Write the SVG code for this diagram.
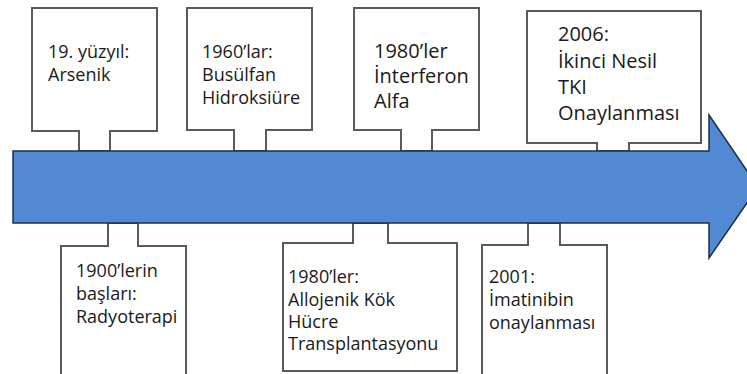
<svg xmlns="http://www.w3.org/2000/svg" width="747" height="374" viewBox="0 0 747 374">
<style>
.box{fill:#fff;stroke:#5a5a5a;stroke-width:2;stroke-linejoin:miter}
.t{font-family:"Open Sans","Liberation Sans",sans-serif;fill:#1a1a1a}
.s18{font-size:18px}
.s20{font-size:20px}
.arrow{fill:#5289d3;stroke:#1f2f4a;stroke-width:1.5;stroke-linejoin:miter}
</style>
<rect width="747" height="374" fill="#fff"/>
<g id="n1">
<path class="box" d="M32,8 H157 V131 H110 V151 H79 V131 H32 Z"/>
<text class="t s18"><tspan x="48" y="58">19. yüzyıl:</tspan><tspan x="48" y="81">Arsenik</tspan></text>
</g>
<g id="n2">
<path class="box" d="M187,8 H312 V130 H266 V151 H234 V130 H187 Z"/>
<text class="t s18"><tspan x="202" y="58">1960’lar:</tspan><tspan x="202" y="81">Busülfan</tspan><tspan x="202" y="104">Hidroksiüre</tspan></text>
</g>
<g id="n3">
<path class="box" d="M354,8 H479 V130 H432 V151 H401 V130 H354 Z"/>
<text class="t s20"><tspan x="374" y="58">1980’ler</tspan><tspan x="374" y="83">İnterferon</tspan><tspan x="374" y="108">Alfa</tspan></text>
</g>
<g id="n4">
<path class="box" d="M527,11 H701 V143 H629 V151 H597 V143 H527 Z"/>
<text class="t s20"><tspan x="558" y="41">2006:</tspan><tspan x="558" y="68">İkinci Nesil</tspan><tspan x="558" y="94">TKI</tspan><tspan x="558" y="120">Onaylanması</tspan></text>
</g>
<g id="n5">
<path class="box" d="M61,380 V246 H108 V223 H138 V246 H186 V380"/>
<text class="t s18"><tspan x="76" y="277">1900’lerin</tspan><tspan x="76" y="300">başları:</tspan><tspan x="76" y="323">Radyoterapi</tspan></text>
</g>
<g id="n6">
<path class="box" d="M283,371 V243 H353 V223 H388 V243 H457 V371 Z"/>
<text class="t s18"><tspan x="288" y="283">1980’ler:</tspan><tspan x="288" y="306">Allojenik Kök</tspan><tspan x="288" y="328">Hücre</tspan><tspan x="288" y="350">Transplantasyonu</tspan></text>
</g>
<g id="n7">
<path class="box" d="M482,380 V245 H528 V223 H560 V245 H607 V380"/>
<text class="t s18"><tspan x="489" y="283">2001:</tspan><tspan x="489" y="306">İmatinibin</tspan><tspan x="489" y="329">onaylanması</tspan></text>
</g>
<g id="connectors">
<path class="arrow" d="M13,151 H709 V115 L758,187 L709,258 V223 H13 Z"/>
</g>
</svg>
